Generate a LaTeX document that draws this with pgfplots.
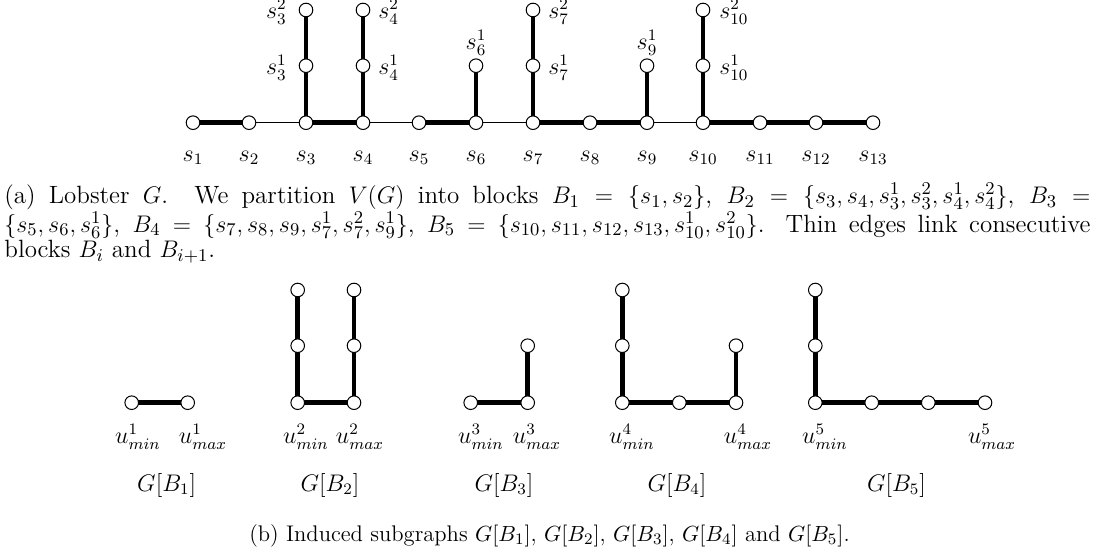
\documentclass[border=0pt]{standalone}
\usepackage{pgfplots}
\pgfplotsset{compat=1.18}
\begin{document}
\begin{tikzpicture}[
    glab/.style={font=\fontsize{11.5}{14}\selectfont, inner sep=0pt},
    ulab/.style={font=\fontsize{12}{14}\selectfont, inner sep=0pt},
    blab/.style={font=\fontsize{11.5}{14}\selectfont, inner sep=0pt},
]
\pgfplotsset{
    thickedge/.style={black, line width=2.25pt, no marks},
    thinedge/.style={black, line width=0.5pt, no marks},
    vtx/.style={only marks, mark=*, mark size=3.4pt,
        mark options={fill=white, draw=black, line width=0.5pt}},
}
\begin{axis}[
    width=549.5pt, height=278pt, scale only axis,
    xmin=0, xmax=1099, ymin=0, ymax=556, y dir=reverse,
    hide axis, clip=false,
]
% ---- (a) lobster G ----
% thin edges between blocks
\addplot[thinedge] coordinates {(249,122.7) (306,122.7)};
\addplot[thinedge] coordinates {(363,122.7) (419,122.7)};
\addplot[thinedge] coordinates {(476,122.7) (533,122.7)};
\addplot[thinedge] coordinates {(647,122.7) (703,122.7)};
% thick edges inside blocks
\addplot[thickedge] coordinates {(193,122.7) (249,122.7)};
\addplot[thickedge] coordinates {(306,122.7) (363,122.7)};
\addplot[thickedge] coordinates {(419,122.7) (476,122.7)};
\addplot[thickedge] coordinates {(533,122.7) (590,122.7) (647,122.7)};
\addplot[thickedge] coordinates {(703,122.7) (760,122.7) (816,122.7) (873,122.7)};
\addplot[thickedge] coordinates {(306,122.7) (306,65.7) (306,10)};
\addplot[thickedge] coordinates {(363,122.7) (363,65.7) (363,10)};
\addplot[thickedge] coordinates {(476,122.7) (476,65.7)};
\addplot[thickedge] coordinates {(533,122.7) (533,65.7) (533,10)};
\addplot[thickedge] coordinates {(647,122.7) (647,65.7)};
\addplot[thickedge] coordinates {(703,122.7) (703,65.7) (703,10)};
\addplot[vtx] coordinates {
    (193,122.7) (249,122.7) (306,122.7) (363,122.7) (419,122.7) (476,122.7)
    (533,122.7) (590,122.7) (647,122.7) (703,122.7) (760,122.7) (816,122.7)
    (873,122.7)
    (306,65.7) (306,10) (363,65.7) (363,10) (476,65.7)
    (533,65.7) (533,10) (647,65.7) (703,65.7) (703,10)};
\node[glab] at (axis cs:193,158) {$s_1$};
\node[glab] at (axis cs:249,158) {$s_2$};
\node[glab] at (axis cs:306,158) {$s_3$};
\node[glab] at (axis cs:363,158) {$s_4$};
\node[glab] at (axis cs:419,158) {$s_5$};
\node[glab] at (axis cs:476,158) {$s_6$};
\node[glab] at (axis cs:533,158) {$s_7$};
\node[glab] at (axis cs:590,158) {$s_8$};
\node[glab] at (axis cs:647,158) {$s_9$};
\node[glab] at (axis cs:703,158) {$s_{10}$};
\node[glab] at (axis cs:760,158) {$s_{11}$};
\node[glab] at (axis cs:816,158) {$s_{12}$};
\node[glab] at (axis cs:873,158) {$s_{13}$};
\node[glab, anchor=east] at (axis cs:287,12) {$s_3^2$};
\node[glab, anchor=east] at (axis cs:287,68) {$s_3^1$};
\node[glab, anchor=west] at (axis cs:378,12) {$s_4^2$};
\node[glab, anchor=west] at (axis cs:378,68) {$s_4^1$};
\node[glab] at (axis cs:476,43) {$s_6^1$};
\node[glab, anchor=west] at (axis cs:548,12) {$s_7^2$};
\node[glab, anchor=west] at (axis cs:548,68) {$s_7^1$};
\node[glab] at (axis cs:647,43) {$s_9^1$};
\node[glab, anchor=west] at (axis cs:719,12) {$s_{10}^2$};
\node[glab, anchor=west] at (axis cs:719,68) {$s_{10}^1$};
\node[anchor=north west, inner sep=0pt, text width=543pt, align=justify,
      font=\fontsize{12.5}{12.75}\selectfont] at (axis cs:4,183) {(a) Lobster $G$. We partition $V(G)$ into blocks $B_1 = \{s_1,s_2\}$, $B_2 = \{s_3,s_4,s_3^1,s_3^2,s_4^1,s_4^2\}$, $B_3 =$\linebreak $\{s_5,s_6,s_6^1\}$, $B_4 = \{s_7,s_8,s_9,s_7^1,s_7^2,s_9^1\}$, $B_5 = \{s_{10},s_{11},s_{12},s_{13},s_{10}^1,s_{10}^2\}$. Thin edges link consecutive\linebreak blocks $B_i$ and $B_{i+1}$.};
% ---- (b) induced subgraphs ----
\addplot[thickedge] coordinates {(131.7,402.7) (187.7,402.7)};
\addplot[thickedge] coordinates {(297.7,290) (297.7,345.7) (297.7,402.7) (354,402.7) (354,345.7) (354,290)};
\addplot[thickedge] coordinates {(470.7,402.7) (527.7,402.7) (527.7,345.7)};
\addplot[thickedge] coordinates {(622.3,290) (622.3,345.7) (622.3,402.7) (679.3,402.7) (736,402.7) (736,345.7)};
\addplot[thickedge] coordinates {(815.3,290) (815.3,345.7) (815.3,402.7) (871.7,402.7) (928.3,402.7) (985,402.7)};
\addplot[vtx] coordinates {
    (131.7,402.7) (187.7,402.7)
    (297.7,402.7) (297.7,345.7) (297.7,290) (354,402.7) (354,345.7) (354,290)
    (470.7,402.7) (527.7,402.7) (527.7,345.7)
    (622.3,402.7) (622.3,345.7) (622.3,290) (679.3,402.7) (736,402.7) (736,345.7)
    (815.3,402.7) (815.3,345.7) (815.3,290) (871.7,402.7) (928.3,402.7) (985,402.7)};
\node[ulab] at (axis cs:138,437) {$u_{min}^1$};
\node[ulab] at (axis cs:203,437) {$u_{max}^1$};
\node[ulab] at (axis cs:306,437) {$u_{min}^2$};
\node[ulab] at (axis cs:360,437) {$u_{max}^2$};
\node[ulab] at (axis cs:481,437) {$u_{min}^3$};
\node[ulab] at (axis cs:537,437) {$u_{max}^3$};
\node[ulab] at (axis cs:632,437) {$u_{min}^4$};
\node[ulab] at (axis cs:748,437) {$u_{max}^4$};
\node[ulab] at (axis cs:825,437) {$u_{min}^5$};
\node[ulab] at (axis cs:992,437) {$u_{max}^5$};
\node[blab] at (axis cs:166.7,485) {$G[B_1]$};
\node[blab] at (axis cs:330,485) {$G[B_2]$};
\node[blab] at (axis cs:504,485) {$G[B_3]$};
\node[blab] at (axis cs:677,485) {$G[B_4]$};
\node[blab] at (axis cs:896.5,485) {$G[B_5]$};
\node[inner sep=0pt, font=\fontsize{11.3}{13}\selectfont] at (axis cs:549.5,535.5) {(b) Induced subgraphs $G[B_1]$, $G[B_2]$, $G[B_3]$, $G[B_4]$ and $G[B_5]$.};
\end{axis}
\pgfresetboundingbox
\path (current axis.south west) rectangle (current axis.north east);
\end{tikzpicture}
\end{document}
